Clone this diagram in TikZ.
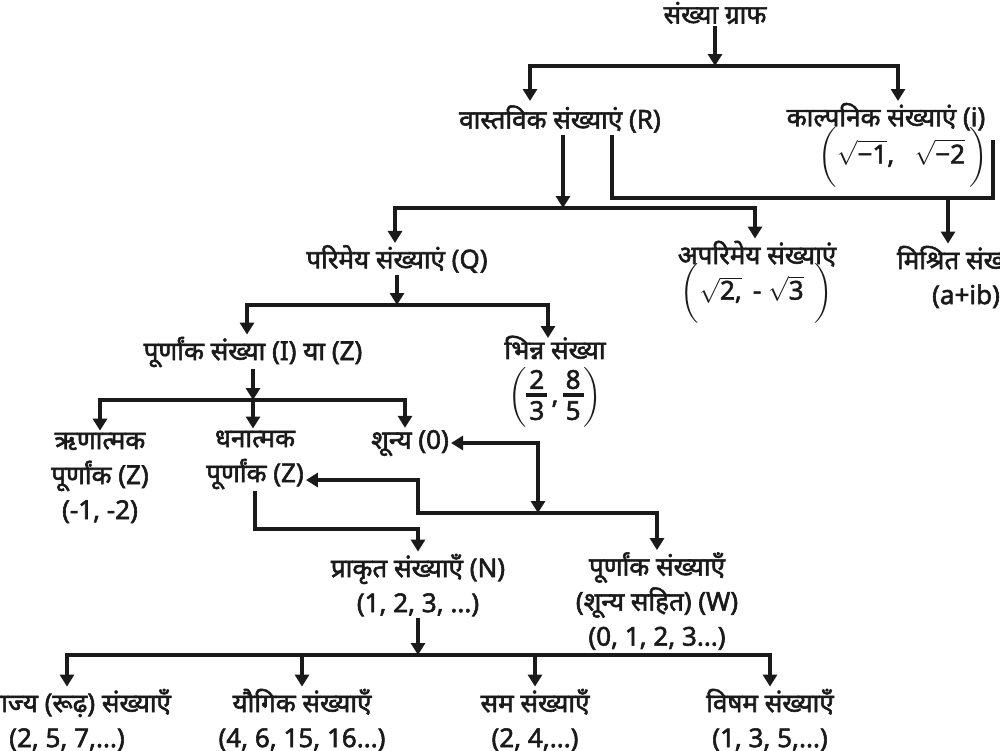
\documentclass[tikz,border=0pt]{standalone}
\usepackage{amsmath}
\usepackage{fontspec}
\setmainfont{Noto Sans}[Script=Devanagari, FakeBold=2.2]
\usetikzlibrary{arrows.meta}
\definecolor{ink}{HTML}{1A1A1A}
\newcommand{\tfr}[2]{\vcenter{\hbox{\begin{tabular}{@{}c@{}}#1\\[-27pt]\textcolor{ink}{\rule{21pt}{3.4pt}}\\[-12pt]#2\end{tabular}}}}
\tikzset{
  lbl/.style={font=\fontsize{26}{35}\selectfont, text=ink, align=center, inner sep=2pt},
  ln/.style={draw=ink, line width=3.5pt},
  arr/.style={ln, -{Triangle[width=14pt,length=12pt]}},
  darr/.style={ln, {Triangle[width=14pt,length=12pt]}-{Triangle[width=14pt,length=12pt]}}
}
\begin{document}
\begin{tikzpicture}[x=1pt,y=-1pt]
\useasboundingbox (0,0) rectangle (1000,750);
% nodes
\node[lbl] (title) at (715,13) {संख्या ग्राफ};
\node[lbl] (R) at (560,119) {वास्तविक संख्याएं (R)};
\node[lbl] (Im) at (886,145) {काल्पनिक संख्याएं (i)\\[-4pt]\hspace*{34pt}$\biggl(\sqrt{\text{−1}}\text{,\ \ \ }\sqrt{\text{−2}}\,\biggr)$};
\node[lbl] (C) at (966,277) {मिश्रित संख्याएं\\(a+ib)};
\node[lbl] (Q) at (397,259) {परिमेय संख्याएं (Q)};
\node[lbl] (Irr) at (757,282) {अपरिमेय संख्याएं\\[-4pt]$\biggl(\sqrt{\text{2,}}\text{ \,- }\sqrt{\text{3}}\;\,\biggr)$};
\node[lbl] (Z) at (253,352) {पूर्णांक संख्या (I) या (Z)};
\node[lbl] (F) at (555,383) {भिन्न संख्या\\[4pt]$\biggl(\tfr{2}{3}\,\text{,}\,\tfr{8}{5}\biggr)$};
\node[lbl] (Neg) at (100,478) {ऋणात्मक\\पूर्णांक (Z)\\(-1, -2)};
\node[lbl] (Pos) at (255,460) {धनात्मक\\पूर्णांक (Z)};
\node[lbl] (Zero) at (410,443) {शून्य (0)};
\node[lbl] (N) at (418,585) {प्राकृत संख्याएँ (N)\\(1, 2, 3, ...)};
\node[lbl] (W) at (657,601) {पूर्णांक संख्याएँ\\(शून्य सहित) (W)\\(0, 1, 2, 3...)};
\node[lbl] (P) at (67,720) {अभाज्य (रूढ़) संख्याएँ\\(2, 5, 7,...)};
\node[lbl] (Co) at (302,720) {यौगिक संख्याएँ\\(4, 6, 15, 16...)};
\node[lbl] (E) at (535,720) {सम संख्याएँ\\(2, 4,...)};
\node[lbl] (O) at (770,720) {विषम संख्याएँ\\(1, 3, 5,...)};
% junctions
\coordinate (j1) at (715,66);
\coordinate (j2) at (563,208);
\coordinate (j3) at (948,198);
\coordinate (j4) at (397,305);
\coordinate (j5) at (253,400);
\coordinate (j6) at (538,513);
\coordinate (j7) at (418,529);
\coordinate (j8) at (418,655);
% connectors
\draw[arr] (title) -- (j1);
\draw[arr] (j1) -| (530,101);
\draw[arr] (j1) -| (898,101);
\draw[arr] (R.south -| j2) -- (j2);
\draw[arr] (j2) -| (Q.north -| 395,0);
\draw[arr] (j2) -| (Irr.north -| 755,0);
\draw[ln] (R.south -| 612,0) |- (j3) -| (993,140);
\draw[arr] (j3) -- (C.north -| j3);
\draw[arr] (Q) -- (j4);
\draw[arr] (j4) -| (Z.north -| 247,0);
\draw[arr] (j4) -| (548,338);
\draw[arr] (Z) -- (j5);
\draw[arr] (j5) -| (Neg.north);
\draw[arr] (j5) -- (Pos.north -| j5);
\draw[arr] (j5) -| (Zero.north -| 405,0);
\draw[darr] (Zero.east) -| (j6);
\draw[darr] (Pos.east |- 0,480) -| (418,513) -| (W.north);
\draw[arr] (Pos.south) |- (j7) -- (N.north -| j7);
\draw[arr] (N) -- (j8);
\draw[arr] (j8) -| (P.north);
\draw[arr] (j8) -| (Co.north);
\draw[arr] (j8) -| (E.north);
\draw[arr] (j8) -| (O.north);
\end{tikzpicture}
\end{document}
